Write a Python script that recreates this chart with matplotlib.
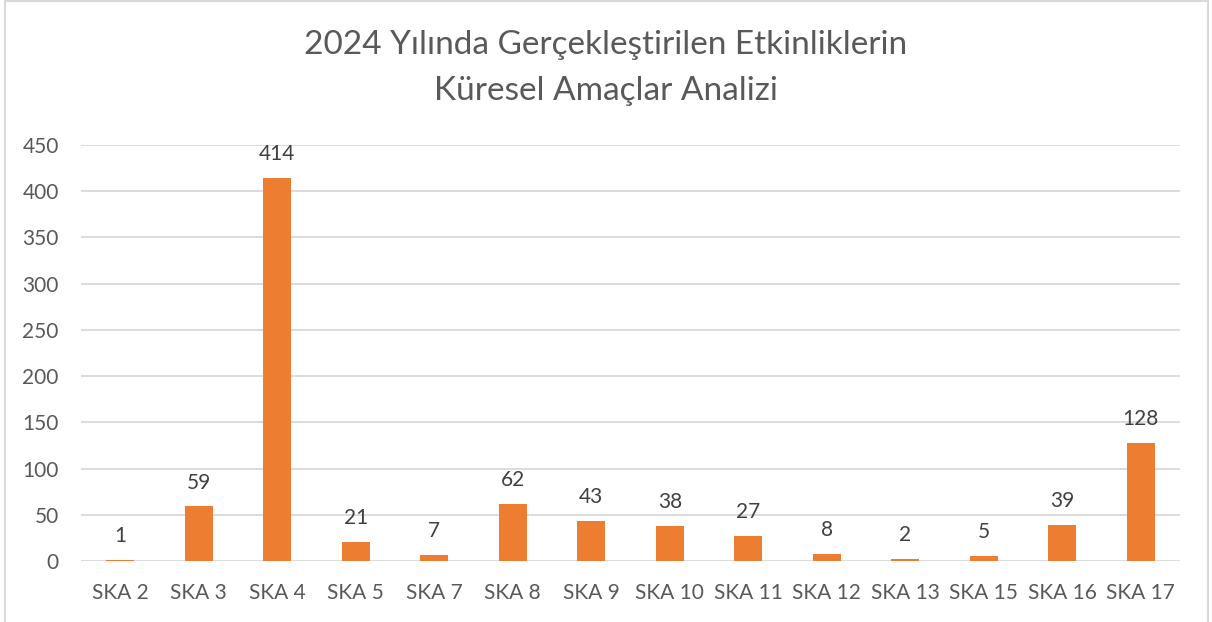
import matplotlib.pyplot as plt
from matplotlib.patches import Rectangle

# Data
categories = ["SKA 2", "SKA 3", "SKA 4", "SKA 5", "SKA 7", "SKA 8", "SKA 9",
              "SKA 10", "SKA 11", "SKA 12", "SKA 13", "SKA 15", "SKA 16", "SKA 17"]
values = [1, 59, 414, 21, 7, 62, 43, 38, 27, 8, 2, 5, 39, 128]
y_ticks = [0, 50, 100, 150, 200, 250, 300, 350, 400, 450]

plt.rcParams['font.family'] = ['Lato', 'DejaVu Sans']
text_color = '#595959'

fig = plt.figure(figsize=(12.12, 6.22), dpi=100)
ax = fig.add_axes([0.0668, 0.0981, 0.9068, 0.6688])

x = range(len(categories))
bars = ax.bar(x, values, width=0.36, color='#ED7D31', zorder=3)

for xi, v in zip(x, values):
    ax.annotate(str(v), (xi, v), xytext=(0, 10), textcoords='offset points',
                ha='center', va='bottom', fontsize=15, color='#404040')

ax.set_xlim(-0.5, len(categories) - 0.5)
ax.set_ylim(0, 450)
ax.set_yticks(y_ticks)
ax.set_xticks(list(x))
ax.set_xticklabels(categories)
ax.tick_params(axis='both', length=0, labelsize=15, labelcolor=text_color)
ax.tick_params(axis='y', pad=16)
ax.tick_params(axis='x', pad=16)
ax.grid(axis='y', color='#D9D9D9', linewidth=1.3, zorder=0)
for s in ax.spines.values():
    s.set_visible(False)

fig.text(0.5, 0.927, "2024 Yılında Gerçekleştirilen Etkinliklerin", ha='center', va='center',
         fontsize=24, color=text_color)
fig.text(0.5, 0.853, "Küresel Amaçlar Analizi", ha='center', va='center',
         fontsize=24, color=text_color)

# chart frame
fig.patches.append(Rectangle((5 / 1212, -0.01), 1203 / 1212, 1.0084, transform=fig.transFigure,
                             fill=False, edgecolor='#D9D9D9', linewidth=1.5))

fig.savefig("out.png", dpi=100)
